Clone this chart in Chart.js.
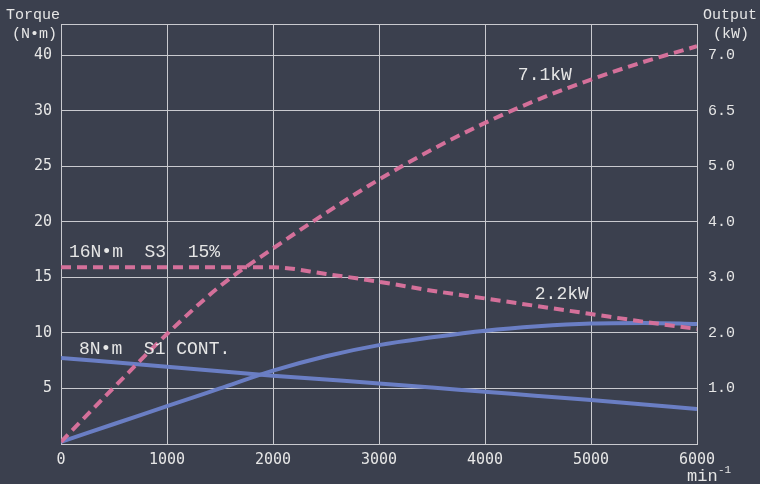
<!DOCTYPE html>
<html>
<head>
<meta charset="utf-8">
<script src="https://cdn.jsdelivr.net/npm/chart.js@4"></script>
<style>
  html, body { margin: 0; padding: 0; background: #3b404e; }
  #wrap { width: 760px; height: 484px; position: relative; }
</style>
</head>
<body>
<div id="wrap"><canvas id="grafica"></canvas></div>
<script>
// Datos (valores sobre la escala izquierda)
const velocidades = [0, 500, 1000, 1500, 2000, 2500, 3000, 3500, 4000, 4500, 5000, 5500, 6000];
const potenciaS3 = [0.2, 5.1, 9.9, 14.2, 17.6, 20.8, 23.8, 26.5, 28.9, 31.0, 32.8, 34.4, 35.8];
const parS3      = [15.9, 15.9, 15.9, 15.9, 15.9, 15.3, 14.6, 13.8, 13.1, 12.4, 11.7, 11.0, 10.35];
const parS1      = [7.75, 7.35, 6.95, 6.55, 6.15, 5.8, 5.45, 5.08, 4.7, 4.33, 3.95, 3.55, 3.15];
const potenciaS1 = [0.2, 1.8, 3.4, 5.0, 6.6, 7.9, 8.9, 9.6, 10.2, 10.6, 10.85, 10.9, 10.8];

const ticksY = [0, 5, 10, 15, 20, 25, 30, 35];
const etiquetasPar = ['', '5', '10', '15', '20', '25', '30', '40'];
const etiquetasPotencia = ['', '1.0', '2.0', '3.0', '4.0', '5.0', '6.5', '7.0'];

const rosa = '#d4709a';
const azul = '#6a7ec4';
const rejilla = '#c9cacf';
const texto = '#e6e6e6';

function puntos(ys) {
    return velocidades.map((x, i) => ({ x: x, y: ys[i] }));
}

// Textos y marco dibujados encima
const textosPlugin = {
    id: 'textos',
    beforeDatasetsDraw(chart) {
        const { ctx, chartArea: a } = chart;
        ctx.save();
        ctx.strokeStyle = rejilla;
        ctx.lineWidth = 1;
        ctx.beginPath();
        ctx.moveTo(a.left, a.top + 0.5);
        ctx.lineTo(a.right, a.top + 0.5);
        ctx.stroke();
        ctx.restore();
    },
    afterDraw(chart) {
        const { ctx, scales } = chart;
        const x = scales.x, y = scales.y;
        ctx.save();
        ctx.fillStyle = texto;
        ctx.textBaseline = 'middle';

        ctx.font = '18px "Liberation Mono"';
        ctx.textAlign = 'left';
        ctx.fillText('16N\u2022m  S3  15%', x.getPixelForValue(75), y.getPixelForValue(17.3));
        ctx.fillText('8N\u2022m  S1 CONT.', x.getPixelForValue(170), y.getPixelForValue(8.55));
        ctx.fillText('7.1kW', x.getPixelForValue(4310), y.getPixelForValue(33.2));
        ctx.fillText('2.2kW', x.getPixelForValue(4470), y.getPixelForValue(13.5));

        ctx.font = '15px "Liberation Mono"';
        ctx.fillText('Torque', 6, 15);
        ctx.fillText('(N\u2022m)', 12, 34);
        ctx.fillText('Output', 703, 15);
        ctx.fillText('(kW)', 713, 34);
        ctx.font = '17px "Liberation Mono"';
        ctx.fillText('min', 687, 476);
        ctx.font = '11px "Liberation Mono"';
        ctx.fillText('-1', 718, 470);
        ctx.restore();
    }
};

new Chart(document.getElementById('grafica'), {
    type: 'line',
    data: {
        datasets: [
            { data: puntos(potenciaS3), borderColor: rosa, borderDash: [10, 6], yAxisID: 'y' },
            { data: puntos(parS3), borderColor: rosa, borderDash: [10, 6], yAxisID: 'y' },
            { data: puntos(parS1), borderColor: azul, yAxisID: 'y' },
            { data: puntos(potenciaS1), borderColor: azul, yAxisID: 'y' }
        ]
    },
    options: {
        responsive: true,
        maintainAspectRatio: false,
        animation: false,
        layout: { padding: { top: 24, left: 0, right: 0, bottom: 0 } },
        elements: {
            point: { radius: 0 },
            line: { borderWidth: 4, tension: 0.4, cubicInterpolationMode: 'monotone', fill: false }
        },
        plugins: { legend: { display: false }, tooltip: { enabled: false } },
        scales: {
            x: {
                type: 'linear', min: 0, max: 6000,
                afterFit(s) { s.height = 40; },
                ticks: {
                    stepSize: 1000, color: texto, padding: 7, font: { family: 'DejaVu Sans Mono', size: 15 },
                    callback: (v) => String(v)
                },
                grid: { color: rejilla, drawTicks: false },
                border: { color: rejilla }
            },
            y: {
                position: 'left', min: 0, max: 37.8,
                afterFit(s) { s.width = 61; },
                afterBuildTicks(s) { s.ticks = ticksY.map(v => ({ value: v })); },
                ticks: {
                    color: texto, padding: 9, font: { family: 'DejaVu Sans Mono', size: 15 },
                    callback: (v) => etiquetasPar[ticksY.indexOf(v)]
                },
                grid: { color: rejilla, drawTicks: false },
                border: { color: rejilla }
            },
            y2: {
                position: 'right', min: 0, max: 37.8,
                afterFit(s) { s.width = 63; },
                afterBuildTicks(s) { s.ticks = ticksY.map(v => ({ value: v })); },
                ticks: {
                    color: texto, padding: 11, font: { family: 'Liberation Mono', size: 15 },
                    callback: (v) => etiquetasPotencia[ticksY.indexOf(v)]
                },
                grid: { display: false, drawTicks: false },
                border: { color: rejilla }
            }
        }
    },
    plugins: [textosPlugin]
});
</script>
</body>
</html>
